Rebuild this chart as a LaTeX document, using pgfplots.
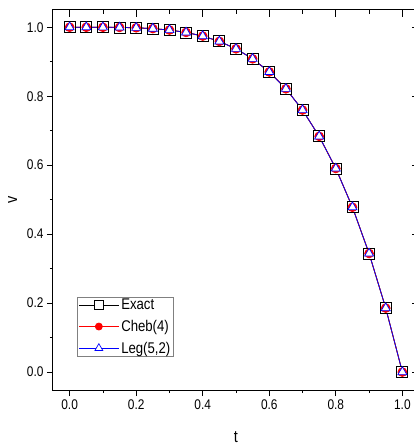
\documentclass[border=0pt]{standalone}
\usepackage{pgfplots}
\pgfplotsset{compat=1.18}
\usepackage{fontspec}
\setmainfont{Liberation Sans}[FakeStretch=0.85]
\pgfplotstableread{
t v
0.00 1.00000
0.05 0.99999
0.10 0.99990
0.15 0.99949
0.20 0.99840
0.25 0.99609
0.30 0.99190
0.35 0.98499
0.40 0.97440
0.45 0.95899
0.50 0.93750
0.55 0.90849
0.60 0.87040
0.65 0.82149
0.70 0.75990
0.75 0.68359
0.80 0.59040
0.85 0.47799
0.90 0.34390
0.95 0.18549
1.00 0.00000
}\exact
\begin{document}
\begin{tikzpicture}
\pgfplotsset{
  myaxis/.style={
    scale only axis, width=366pt, height=380pt,
    xmin=-0.05, xmax=1.05, ymin=-0.052, ymax=1.05,
    xtick={0,0.2,...,1.0}, ytick={0,0.2,...,1.0},
    minor tick num=1,
    axis line style={line width=1pt},
    every tick/.style={black, line width=0.8pt},
  }
}
\begin{axis}[myaxis,
  tick align=outside,
  xtick pos=bottom, ytick pos=left,
  major tick length=6pt, minor tick length=3pt,
  /pgf/number format/assume math mode=true,
  ticklabel style={font=\fontsize{14}{16}\selectfont},
  xticklabel style={/pgf/number format/.cd, fixed, fixed zerofill, precision=1},
  yticklabel style={/pgf/number format/.cd, fixed, fixed zerofill, precision=1},
  xlabel={t}, ylabel={v},
  label style={font=\fontsize{17}{19}\selectfont},
  xlabel style={yshift=-15pt},
  ylabel style={yshift=3pt},
  legend cell align=left,
  legend style={at={(rel axis cs:0.066,0.087)}, anchor=south west,
    draw=gray, line width=0.6pt, font=\fontsize{15.5}{17}\selectfont,
    row sep=5pt, inner xsep=1pt, inner ysep=0pt},
  legend image code/.code={\draw[mark repeat=2,mark phase=2] plot coordinates {(0pt,0pt) (20pt,0pt) (40pt,0pt)};},
]
\addplot[black, line width=0.8pt, mark=square*, mark size=5.5pt, mark options={fill=white, draw=black, line width=0.8pt, solid},
  legend image post style={mark size=4.8pt}] table[x=t,y=v] {\exact};
\addlegendentry{Exact}
\addplot[red, line width=0.8pt, mark=*, mark size=4.4pt, mark options={solid},
  legend image post style={mark size=3.5pt}] table[x=t,y=v] {\exact};
\addlegendentry{Cheb(4)}
\addplot[blue, line width=0.7pt, mark=triangle*, mark size=5.2pt, mark options={fill=white, draw=blue, line width=0.7pt, solid},
  legend image post style={mark size=4.6pt}] table[x=t,y=v] {\exact};
\addlegendentry{Leg(5,2)}
\end{axis}
\begin{axis}[myaxis,
  tick align=inside,
  xtick pos=upper, ytick pos=right,
  major tick length=7pt, minor tick length=4pt,
  xticklabels={}, yticklabels={},
  axis lines=box,
]
\end{axis}
\pgfresetboundingbox
\path[use as bounding box] (-53pt,-58pt) rectangle (361pt,390pt);
\end{tikzpicture}
\end{document}
